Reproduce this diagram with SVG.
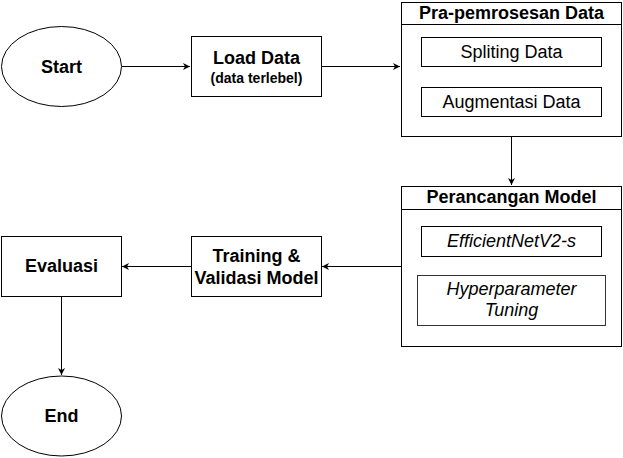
<svg xmlns="http://www.w3.org/2000/svg" width="623" height="458" viewBox="0 0 623 458">
<style>
.s{fill:#fff;stroke:#000;stroke-width:1}
.t{font-family:"Liberation Sans",Arial,sans-serif;font-size:18px;fill:#000;text-anchor:middle}
.b{font-weight:bold}
.i{font-style:italic}
.c{fill:none;stroke:#000;stroke-width:1}
</style>
<defs>
<marker id="a" markerWidth="10" markerHeight="10" refX="8" refY="5" orient="auto" markerUnits="userSpaceOnUse">
<path d="M1,1.5 L8,5 L1,8.5 L3,5 Z" fill="#000"/>
</marker>
</defs>
<rect width="623" height="458" fill="#fff"/>
<g id="connectors">
<path class="c" d="M122,66.5 H190" marker-end="url(#a)"/>
<path class="c" d="M321,66.5 H400" marker-end="url(#a)"/>
<path class="c" d="M511.5,136 V185" marker-end="url(#a)"/>
<path class="c" d="M401,266.5 H322" marker-end="url(#a)"/>
<path class="c" d="M191,266.5 H122" marker-end="url(#a)"/>
<path class="c" d="M61.5,296 V375" marker-end="url(#a)"/>
</g>
<g id="start">
<ellipse class="s" cx="61.5" cy="66.5" rx="60" ry="40"/>
<text class="t b" x="61.5" y="72.5">Start</text>
</g>
<g id="load">
<rect class="s" x="191.5" y="36.5" width="130" height="60"/>
<text class="t b" x="256.5" y="63.5">Load Data</text>
<text class="t b" x="256.5" y="83" style="font-size:14px">(data terlebel)</text>
</g>
<g id="pra">
<rect class="s" x="401.5" y="2.5" width="220" height="134"/>
<line class="c" x1="401.5" y1="24.5" x2="621.5" y2="24.5"/>
<text class="t b" x="511.5" y="19">Pra-pemrosesan Data</text>
<g id="spliting">
<rect class="s" x="421.5" y="37.5" width="180" height="29"/>
<text class="t" x="511.5" y="57.5">Spliting Data</text>
</g>
<g id="augmentasi">
<rect class="s" x="421.5" y="87.5" width="180" height="29"/>
<text class="t" x="511.5" y="107.5">Augmentasi Data</text>
</g>
</g>
<g id="perancangan">
<rect class="s" x="401.5" y="186.5" width="220" height="160"/>
<line class="c" x1="401.5" y1="209.5" x2="621.5" y2="209.5"/>
<text class="t b" x="511.5" y="203">Perancangan Model</text>
<g id="efficientnet">
<rect class="s" x="421.5" y="226.5" width="180" height="30"/>
<text class="t i" x="511.5" y="247">EfficientNetV2-s</text>
</g>
<g id="hyper">
<rect class="s" x="417.5" y="275.5" width="188" height="50" style="stroke:#333"/>
<text class="t i" x="511.5" y="295">Hyperparameter</text>
<text class="t i" x="511.5" y="316">Tuning</text>
</g>
</g>
<g id="training">
<rect class="s" x="191.5" y="236.5" width="130" height="60"/>
<text class="t b" x="256.5" y="262">Training &amp;</text>
<text class="t b" x="256.5" y="283.5">Validasi Model</text>
</g>
<g id="evaluasi">
<rect class="s" x="1.5" y="236.5" width="120" height="60"/>
<text class="t b" x="61.5" y="272">Evaluasi</text>
</g>
<g id="end">
<ellipse class="s" cx="61.5" cy="416" rx="60" ry="40"/>
<text class="t b" x="61.5" y="422">End</text>
</g>
</svg>
